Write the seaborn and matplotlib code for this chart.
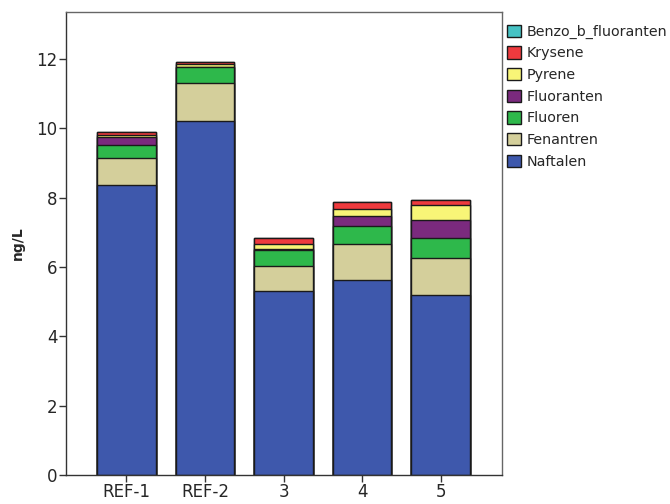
import matplotlib
matplotlib.use("Agg")
import matplotlib.pyplot as plt
from matplotlib.patches import Patch
import numpy as np
import pandas as pd
import seaborn as sns

# Sample stations
stations = ["REF-1", "REF-2", "3", "4", "5"]

# PAH concentrations (ng/L) per compound, stacked bottom to top
naftalen = [8.36, 10.21, 5.31, 5.62, 5.19]
fenantren = [0.77, 1.08, 0.72, 1.04, 1.08]
fluoren = [0.37, 0.48, 0.46, 0.53, 0.56]
fluoranten = [0.25, 0.00, 0.02, 0.28, 0.52]
pyrene = [0.04, 0.08, 0.14, 0.19, 0.44]
krysene = [0.09, 0.06, 0.19, 0.20, 0.14]
benzo_b_fluoranten = [0.01, 0.00, 0.00, 0.00, 0.00]

compounds = ["Naftalen", "Fenantren", "Fluoren", "Fluoranten",
             "Pyrene", "Krysene", "Benzo_b_fluoranten"]
values = [naftalen, fenantren, fluoren, fluoranten,
          pyrene, krysene, benzo_b_fluoranten]
colors = ["#3E58AC", "#D4CF9B", "#2EB84B", "#7B2A7E",
          "#F8F577", "#EE3A3E", "#46C2C4"]

sns.set_style("white")
plt.rcParams["font.family"] = ["DejaVu Sans"]

fig = plt.figure(figsize=(6.7, 5.04), dpi=100)
ax = fig.add_axes([0.0985, 0.0575, 0.6505, 0.9195])

# Cumulative heights; draw tallest stack first so lower layers overlay it
cum = np.cumsum(np.array(values), axis=0)
for i in range(len(compounds) - 1, -1, -1):
    df = pd.DataFrame({"station": stations, "value": cum[i]})
    sns.barplot(data=df, x="station", y="value", color=colors[i],
                width=0.75, edgecolor="#1a1a1a", linewidth=1.0,
                saturation=1, ax=ax, zorder=2)

ax.set_xlim(-0.77, 4.78)
ax.set_ylim(0, 13.36)
ax.set_yticks(np.arange(0, 13, 2))
ax.set_xlabel("")
ax.set_ylabel("ng/L", fontsize=10, fontweight="bold", labelpad=8)

ax.tick_params(axis="both", direction="out", length=5, width=1,
               color="#333333", labelsize=12, pad=1, bottom=True, left=True)
for side, sp in ax.spines.items():
    sp.set_color("#333333" if side in ("left", "bottom") else "#666666")
    sp.set_linewidth(1.0)

handles = [Patch(facecolor=colors[i], edgecolor="#1a1a1a", linewidth=1.0,
                 label=compounds[i]) for i in range(len(compounds) - 1, -1, -1)]
ax.legend(handles=handles, loc="upper left", bbox_to_anchor=(1.012, 0.972),
          frameon=False, fontsize=10.3, handlelength=0.95, handleheight=0.95,
          handletextpad=0.4, labelspacing=0.53, borderaxespad=0.0,
          borderpad=0.0)

fig.savefig("out.png", dpi=100)
